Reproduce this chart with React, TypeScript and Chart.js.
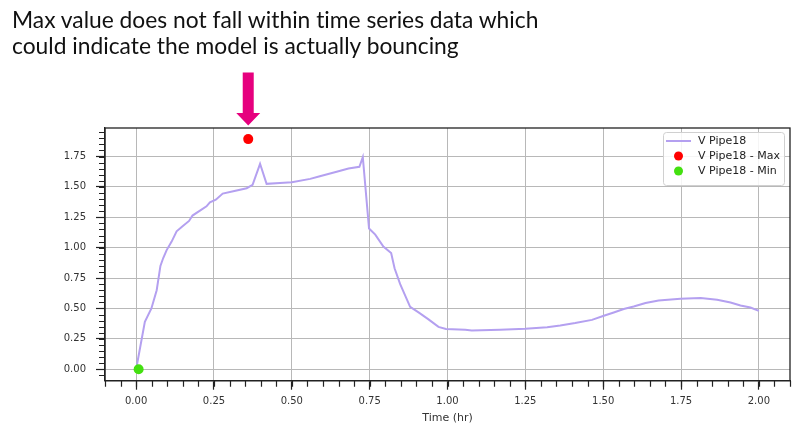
import React, { useEffect, useRef } from "react";
import { Chart, registerables } from "chart.js";

Chart.register(...registerables);

const titleLines = [
  "Max value does not fall within time series data which",
  "could indicate the model is actually bouncing",
];

const seriesLabel = "V Pipe18";
const maxLabel = "V Pipe18 - Max";
const minLabel = "V Pipe18 - Min";
const axisTitle = "Time (hr)";

const timeHr = [
  0, 0.028, 0.049, 0.066, 0.078, 0.087, 0.098, 0.114, 0.13, 0.151, 0.17, 0.181,
  0.205, 0.226, 0.237, 0.256, 0.278, 0.312, 0.355, 0.374, 0.398, 0.419, 0.462,
  0.5, 0.559, 0.59, 0.644, 0.682, 0.717, 0.728, 0.748, 0.768, 0.794, 0.819,
  0.83, 0.848, 0.88, 0.907, 0.939, 0.971, 0.995, 1.057, 1.078, 1.169, 1.25,
  1.32, 1.362, 1.41, 1.464, 1.502, 1.534, 1.566, 1.598, 1.636, 1.678, 1.748,
  1.813, 1.866, 1.909, 1.941, 1.973, 2.0,
];
const velocity = [
  0, 0.39, 0.5, 0.65, 0.85, 0.915, 0.98, 1.05, 1.135, 1.18, 1.22, 1.264, 1.305,
  1.34, 1.373, 1.395, 1.445, 1.464, 1.489, 1.517, 1.69, 1.525, 1.533, 1.538,
  1.566, 1.588, 1.624, 1.651, 1.665, 1.745, 1.157, 1.107, 1.01, 0.956, 0.83,
  0.7, 0.513, 0.467, 0.41, 0.348, 0.331, 0.324, 0.318, 0.324, 0.332, 0.346,
  0.36, 0.38, 0.406, 0.44, 0.467, 0.495, 0.516, 0.544, 0.566, 0.58, 0.585,
  0.571, 0.549, 0.524, 0.508, 0.48,
];
const maxPoint = { x: 0.36, y: 1.893 };
const minPoint = { x: 0.008, y: 0.0 };

const xMajorTicks = [0, 0.25, 0.5, 0.75, 1.0, 1.25, 1.5, 1.75, 2.0];
const yMajorTicks = [0, 0.25, 0.5, 0.75, 1.0, 1.25, 1.5, 1.75];
const minorStep = 0.05;

const lineColor = "#b4a0f0";
const maxColor = "#ff0000";
const minColor = "#44e010";
const arrowColor = "#e6007e";

const extrasPlugin = {
  id: "extras",
  afterDraw(chart: any) {
    const { ctx, chartArea, scales } = chart;
    const xs = scales.x;
    const ys = scales.y;
    ctx.save();
    // minor ticks
    ctx.strokeStyle = "#222";
    ctx.lineWidth = 1.2;
    ctx.beginPath();
    for (let k = Math.ceil(xs.min / minorStep); k <= Math.floor(xs.max / minorStep); k++) {
      const v = k * minorStep;
      const px = Math.round(xs.getPixelForValue(v)) + 0.5;
      ctx.moveTo(px, chartArea.bottom);
      ctx.lineTo(px, chartArea.bottom + 6);
    }
    for (let k = Math.ceil(ys.min / minorStep); k <= Math.floor(ys.max / minorStep); k++) {
      const v = k * minorStep;
      const py = Math.round(ys.getPixelForValue(v)) + 0.5;
      ctx.moveTo(chartArea.left, py);
      ctx.lineTo(chartArea.left - 6, py);
    }
    ctx.stroke();
    // frame
    ctx.lineWidth = 1.3;
    ctx.strokeStyle = "#222";
    ctx.strokeRect(chartArea.left, chartArea.top, chartArea.right - chartArea.left, chartArea.bottom - chartArea.top);

    // legend
    const lx = 663, ly = 132, lw = 121, lh = 53;
    ctx.fillStyle = "rgba(255,255,255,0.85)";
    ctx.strokeStyle = "#d0d0d0";
    ctx.lineWidth = 1;
    ctx.beginPath();
    ctx.roundRect(lx + 0.5, ly + 0.5, lw, lh, 3);
    ctx.fill();
    ctx.stroke();
    ctx.font = "11px 'DejaVu Sans'";
    ctx.textBaseline = "middle";
    const rows = [141, 156, 171];
    ctx.strokeStyle = lineColor;
    ctx.lineWidth = 2;
    ctx.beginPath();
    ctx.moveTo(666, rows[0]);
    ctx.lineTo(691, rows[0]);
    ctx.stroke();
    ctx.fillStyle = maxColor;
    ctx.beginPath();
    ctx.arc(678.5, rows[1], 4.5, 0, Math.PI * 2);
    ctx.fill();
    ctx.fillStyle = minColor;
    ctx.beginPath();
    ctx.arc(678.5, rows[2], 4.5, 0, Math.PI * 2);
    ctx.fill();
    ctx.fillStyle = "#222";
    ctx.fillText(seriesLabel, 698, rows[0]);
    ctx.fillText(maxLabel, 698, rows[1]);
    ctx.fillText(minLabel, 698, rows[2]);

    // arrow pointing at max
    const ax = xs.getPixelForValue(maxPoint.x);
    ctx.fillStyle = arrowColor;
    ctx.beginPath();
    ctx.moveTo(ax - 5.5, 72.5);
    ctx.lineTo(ax + 5.5, 72.5);
    ctx.lineTo(ax + 5.5, 113);
    ctx.lineTo(ax + 12, 113);
    ctx.lineTo(ax, 125.5);
    ctx.lineTo(ax - 12, 113);
    ctx.lineTo(ax - 5.5, 113);
    ctx.closePath();
    ctx.fill();
    ctx.restore();
  },
};

export default function App() {
  const ref = useRef<HTMLCanvasElement>(null);
  useEffect(() => {
    document.body.style.margin = "0";
    const lineData = timeHr.map((t, i) => ({ x: t, y: velocity[i] }));
    const tickFont = { family: "'DejaVu Sans'", size: 10 };
    const chart = new Chart(ref.current as HTMLCanvasElement, {
      type: "line",
      data: {
        datasets: [
          {
            label: seriesLabel,
            data: lineData,
            borderColor: lineColor,
            borderWidth: 2,
            pointRadius: 0,
            tension: 0,
            order: 2,
          } as any,
          {
            type: "scatter",
            label: maxLabel,
            data: [maxPoint],
            backgroundColor: maxColor,
            borderWidth: 0,
            pointRadius: 5,
            order: 0,
          } as any,
          {
            type: "scatter",
            label: minLabel,
            data: [minPoint],
            backgroundColor: minColor,
            borderWidth: 0,
            pointRadius: 5,
            order: 1,
          } as any,
        ],
      },
      plugins: [extrasPlugin],
      options: {
        animation: false,
        responsive: false,
        layout: { padding: { top: 128, right: 10, left: 0, bottom: 0 } },
        plugins: { legend: { display: false }, tooltip: { enabled: false } },
        scales: {
          x: {
            type: "linear",
            min: -0.1,
            max: 2.1,
            afterBuildTicks: (s: any) => {
              s.ticks = xMajorTicks.map((v) => ({ value: v }));
            },
            afterFit: (s: any) => {
              s.height = 47.3;
            },
            grid: { color: "#b8b8b8", lineWidth: 1, tickColor: "#222", tickLength: 9, tickWidth: 1.2 },
            border: { color: "#222", width: 1.3 },
            ticks: {
              font: tickFont,
              color: "#333",
              padding: 6,
              maxRotation: 0,
              callback: (v: any) => Number(v).toFixed(2),
            },
            title: {
              display: true,
              text: axisTitle,
              font: { family: "'DejaVu Sans'", size: 11 },
              color: "#333",
              padding: { top: 0, bottom: 3 },
            },
          },
          y: {
            type: "linear",
            min: -0.0945,
            max: 1.9845,
            afterBuildTicks: (s: any) => {
              s.ticks = yMajorTicks.map((v) => ({ value: v }));
            },
            afterFit: (s: any) => {
              s.width = 105;
            },
            grid: { color: "#b8b8b8", lineWidth: 1, tickColor: "#222", tickLength: 9, tickWidth: 1.2 },
            border: { color: "#222", width: 1.3 },
            ticks: {
              font: tickFont,
              color: "#333",
              padding: 10,
              callback: (v: any) => Number(v).toFixed(2),
            },
          },
        },
      } as any,
    });
    return () => chart.destroy();
  }, []);

  return (
    <div style={{ position: "absolute", left: 0, top: 0, width: 800, height: 428, background: "#fff" }}>
      <div
        style={{
          position: "absolute",
          left: 12,
          top: 6,
          fontFamily: "Lato, 'Open Sans', sans-serif",
          fontSize: 22.8,
          lineHeight: "26px",
          color: "#111",
          whiteSpace: "nowrap",
          fontVariantLigatures: "none",
        }}
      >
        {titleLines.map((l, i) => (
          <div key={i}>{l}</div>
        ))}
      </div>
      <canvas ref={ref} width={800} height={428} style={{ width: 800, height: 428, display: "block" }} />
    </div>
  );
}
